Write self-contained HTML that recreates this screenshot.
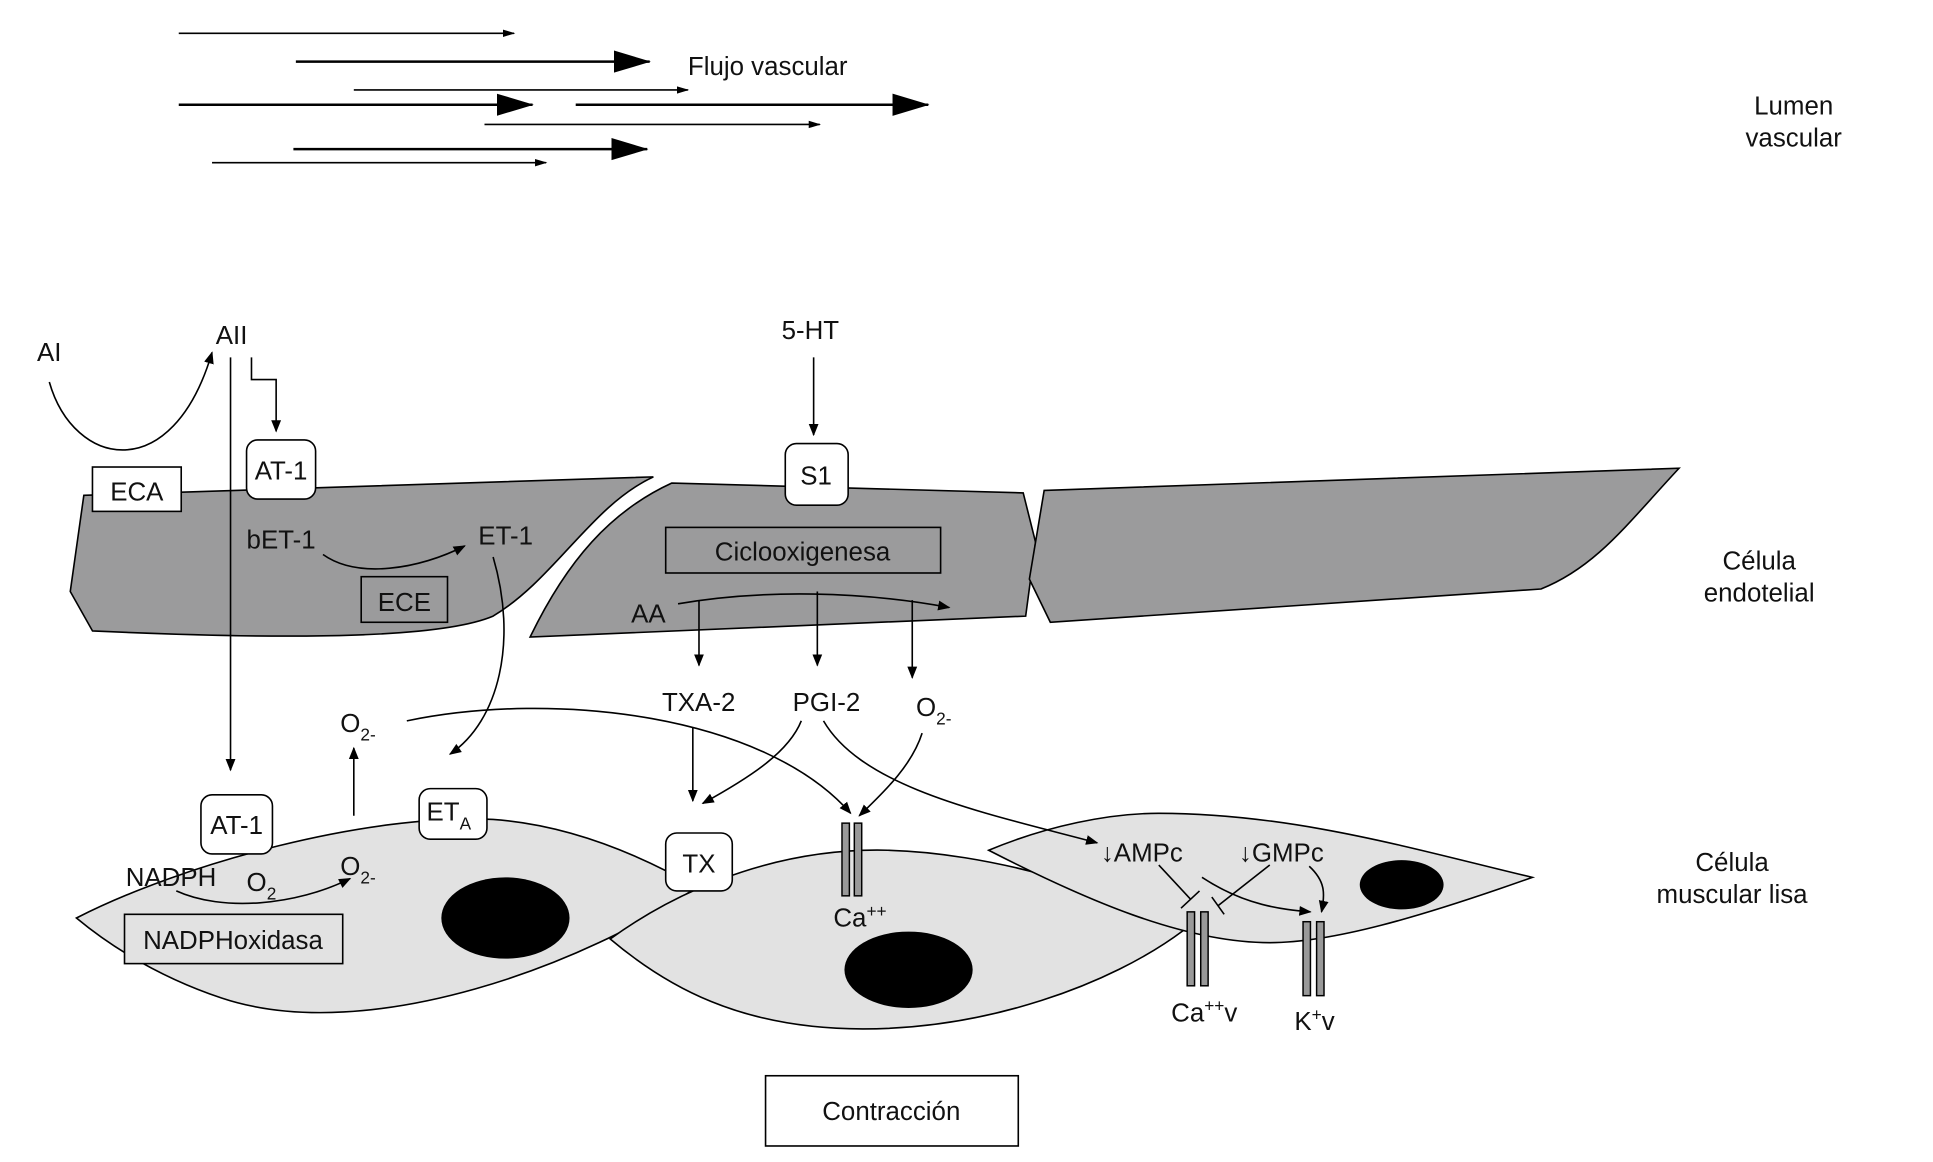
<!DOCTYPE html>
<html><head><meta charset="utf-8"><style>
html,body{margin:0;padding:0;background:#fff;}
svg{display:block;}
text{font-family:"Liberation Sans Narrow","Liberation Sans",sans-serif;font-size:21px;fill:#111;}
</style></head><body>
<svg width="1933" height="1162" viewBox="0 0 1568 943" preserveAspectRatio="none" xmlns="http://www.w3.org/2000/svg">
<defs>
<marker id="a" markerWidth="10" markerHeight="10" refX="9" refY="5" orient="auto" markerUnits="userSpaceOnUse"><path d="M0,1 L10,5 L0,9 Z" fill="#000"/></marker>
<marker id="s" markerWidth="10" markerHeight="8" refX="9" refY="4" orient="auto" markerUnits="userSpaceOnUse"><path d="M0,1 L10,4 L0,7 Z" fill="#000"/></marker>
<marker id="b" markerWidth="30" markerHeight="20" refX="29" refY="10" orient="auto" markerUnits="userSpaceOnUse"><path d="M0,1 L30,10 L0,19 Z" fill="#000"/></marker>
</defs>
<g stroke="#000" fill="none">
<line x1="145" y1="27" x2="417" y2="27" stroke-width="1.3" marker-end="url(#s)"/>
<line x1="240" y1="50" x2="527" y2="50" stroke-width="2" marker-end="url(#b)"/>
<line x1="287" y1="73" x2="558" y2="73" stroke-width="1.3" marker-end="url(#s)"/>
<line x1="145" y1="85" x2="432" y2="85" stroke-width="2" marker-end="url(#b)"/>
<line x1="467" y1="85" x2="753" y2="85" stroke-width="2" marker-end="url(#b)"/>
<line x1="393" y1="101" x2="665" y2="101" stroke-width="1.3" marker-end="url(#s)"/>
<line x1="238" y1="121" x2="525" y2="121" stroke-width="2" marker-end="url(#b)"/>
<line x1="172" y1="132" x2="443" y2="132" stroke-width="1.3" marker-end="url(#s)"/>
</g>
<text x="558" y="61">Flujo vascular</text>
<text x="1455" y="93" text-anchor="middle">Lumen</text>
<text x="1455" y="119" text-anchor="middle">vascular</text>

<g fill="#9b9b9c" stroke="#000" stroke-width="1.3">
<path d="M68,402 L530,387 C480,410 450,470 400,500 C360,517 250,520 75,512 L57,480 Z"/>
<path d="M430,517 C460,455 495,415 545,392 L830,400 L840,440 L832,500 Z"/>
<path d="M847,398 L1362,380 C1320,425 1295,460 1250,478 L852,505 L835,470 Z"/>
</g>
<g fill="#e2e2e2" stroke="#000" stroke-width="1.3">
<path d="M62,745 C150,700 300,660 400,665 C470,670 530,700 565,720 C480,780 300,850 180,810 C120,790 80,760 62,745 Z"/>
<path d="M495,762 C560,715 640,688 720,690 C800,692 900,720 960,755 C900,800 800,835 700,835 C600,835 540,800 495,762 Z"/>
<path d="M802,690 C850,670 900,660 940,660 C1050,660 1150,690 1243,712 C1150,745 1080,765 1030,765 C960,765 880,730 802,690 Z"/>
</g>
<ellipse cx="410" cy="745" rx="52" ry="33"/>
<ellipse cx="737" cy="787" rx="52" ry="31"/>
<ellipse cx="1137" cy="718" rx="34" ry="20"/>

<g stroke="#000" stroke-width="1.3">
<rect x="75" y="379" width="72" height="36" fill="#fff"/>
<rect x="200" y="357" width="56" height="48" rx="9" fill="#fff"/>
<rect x="293" y="468" width="70" height="37" fill="#9b9b9c"/>
<rect x="540" y="428" width="223" height="37" fill="#9b9b9c"/>
<rect x="637" y="360" width="51" height="50" rx="9" fill="#fff"/>
<rect x="163" y="645" width="58" height="48" rx="9" fill="#fff"/>
<rect x="340" y="640" width="55" height="41" rx="9" fill="#fff"/>
<rect x="540" y="676" width="54" height="47" rx="9" fill="#fff"/>
<rect x="101" y="742" width="177" height="40" fill="#e2e2e2"/>
<rect x="621" y="873" width="205" height="57" fill="#fff"/>
</g>
<text x="111" y="406" text-anchor="middle">ECA</text>
<text x="228" y="389" text-anchor="middle">AT-1</text>
<text x="328" y="496" text-anchor="middle">ECE</text>
<text x="651" y="455" text-anchor="middle">Ciclooxigenesa</text>
<text x="662" y="393" text-anchor="middle">S1</text>
<text x="192" y="677" text-anchor="middle">AT-1</text>
<text x="346" y="666">ET<tspan font-size="14" dy="7">A</tspan></text>
<text x="567" y="708" text-anchor="middle">TX</text>
<text x="189" y="770" text-anchor="middle">NADPHoxidasa</text>
<text x="723" y="909" text-anchor="middle">Contracción</text>

<text x="30" y="293">AI</text>
<text x="175" y="279">AII</text>
<text x="634" y="275">5-HT</text>
<text x="200" y="445">bET-1</text>
<text x="388" y="442">ET-1</text>
<text x="512" y="505">AA</text>
<text x="537" y="577">TXA-2</text>
<text x="643" y="577">PGI-2</text>
<text x="743" y="581">O<tspan font-size="14" dy="7">2-</tspan></text>
<text x="276" y="594">O<tspan font-size="14" dy="7">2-</tspan></text>
<text x="276" y="710">O<tspan font-size="14" dy="7">2-</tspan></text>
<text x="200" y="723">O<tspan font-size="14" dy="7">2</tspan></text>
<text x="102" y="719">NADPH</text>
<text x="893" y="699">↓AMPc</text>
<text x="1005" y="699">↓GMPc</text>
<text x="676" y="752">Ca<tspan font-size="14" dy="-8">++</tspan></text>
<text x="950" y="829">Ca<tspan font-size="14" dy="-8">++</tspan><tspan dy="8">v</tspan></text>
<text x="1050" y="836">K<tspan font-size="14" dy="-8">+</tspan><tspan dy="8">v</tspan></text>
<text x="1427" y="462" text-anchor="middle">Célula</text>
<text x="1427" y="488" text-anchor="middle">endotelial</text>
<text x="1405" y="707" text-anchor="middle">Célula</text>
<text x="1405" y="733" text-anchor="middle">muscular lisa</text>

<g stroke="#000" stroke-width="1.3" fill="none" marker-end="url(#a)">
<path d="M40,310 C60,380 140,395 172,286"/>
<path d="M187,290 L187,625"/>
<path d="M204,290 L204,308 L224,308 L224,350"/>
<path d="M660,290 L660,353"/>
<path d="M262,450 C290,470 340,462 377,443"/>
<path d="M400,452 C420,520 405,585 365,612"/>
<path d="M550,490 C620,478 700,480 770,493"/>
<path d="M567,487 L567,540"/>
<path d="M663,480 L663,540"/>
<path d="M740,487 L740,550"/>
<path d="M562,590 L562,650"/>
<path d="M650,585 C640,610 610,630 570,652"/>
<path d="M748,595 C740,620 720,640 697,662"/>
<path d="M330,585 C450,560 620,580 690,660"/>
<path d="M668,585 C700,640 800,660 890,684"/>
<path d="M287,662 L287,607"/>
<path d="M143,723 C180,740 240,735 284,713"/>
<path d="M975,712 C1010,735 1040,738 1063,740"/>
<path d="M1062,703 C1075,715 1075,725 1072,740"/>
</g>
<g stroke="#000" stroke-width="1.3">
<line x1="940" y1="702" x2="966" y2="730"/><line x1="958" y1="737" x2="973" y2="723"/>
<line x1="1030" y1="702" x2="988" y2="735"/><line x1="983" y1="728" x2="993" y2="742"/>
</g>
<g fill="#999" stroke="#000" stroke-width="1.2">
<rect x="683" y="668" width="6" height="59"/><rect x="693" y="668" width="6" height="59"/>
<rect x="963" y="740" width="6" height="60"/><rect x="974" y="740" width="6" height="60"/>
<rect x="1057" y="748" width="6" height="60"/><rect x="1068" y="748" width="6" height="60"/>
</g>
</svg>
</body></html>
